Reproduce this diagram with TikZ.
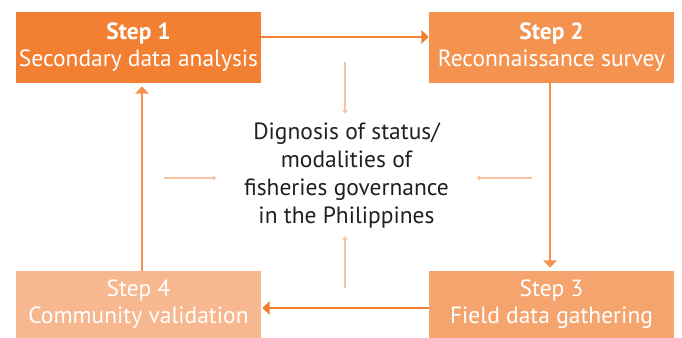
\documentclass[tikz,border=0pt]{standalone}
\usepackage{fontspec}
\setmainfont{PT Sans}
\usepackage{tikz}
\usetikzlibrary{arrows.meta}
\definecolor{stepA}{HTML}{F37F33}
\definecolor{stepB}{HTML}{F4924F}
\definecolor{stepC}{HTML}{F5A46E}
\definecolor{stepD}{HTML}{F7B78F}
\definecolor{hint}{HTML}{F9C2A0}
\definecolor{ink}{HTML}{231F20}
\newcommand{\stepnode}[4]{
  \node[stepbox, #2] (#1) at (#3) {#4};
}
\tikzset{stepbox/.style = {rectangle, text = white, align = center,
                           inner sep = 0pt, minimum width = 183.75pt,
                           font = \fontsize{17.6}{20.25}\selectfont}}

\begin{document}
\begin{tikzpicture}[x=0.75pt, y=-0.75pt]
  \useasboundingbox (0,0) rectangle (682,338);
  \stepnode{s1}{fill=stepA, minimum height=53.25pt}{138.5,47.5}{\textbf{Step 1}\\Secondary data analysis}
  \stepnode{s2}{fill=stepB, minimum height=53.25pt}{551.5,47.5}{\textbf{Step 2}\\Reconnaissance survey}
  \stepnode{s3}{fill=stepC, minimum height=50.25pt}{551.5,304.5}{Step 3\\Field data gathering}
  \stepnode{s4}{fill=stepD, minimum height=50.25pt}{138.5,304.5}{Step 4\\Community validation}
  \node[align=center, text=ink, inner sep=0pt, minimum width=195pt, minimum height=91.5pt,
        font=\fontsize{17.6}{21}\selectfont] (dg) at (346.5,175)
    {Dignosis of status/\\modalities of\\fisheries governance\\in the Philippines};
  \coordinate (up) at (345,62);
  \coordinate (down) at (345,288);
  \coordinate (lt) at (164,178);
  \coordinate (rt) at (532,178);
  \tikzstyle{EdgeStyle}=[line width=1.3pt, -{Triangle[width=10pt, length=5.5pt]}]
  \draw[EdgeStyle, stepA] ([yshift=7.9pt]s1.east) -- ([yshift=7.9pt]s2.west);
  \draw[EdgeStyle, stepB, shorten >=2.25pt] ([xshift=-1.1pt]s2.south) -- ([xshift=-1.1pt]s3.north);
  \draw[EdgeStyle, stepA, shorten >=0.75pt] ([yshift=-2.6pt]s3.west) -- ([yshift=-2.6pt]s4.east);
  \draw[EdgeStyle, stepB, shorten >=2.25pt] ([xshift=2.6pt]s4.north) -- ([xshift=2.6pt]s1.south);
  \tikzstyle{EdgeStyle}=[line width=1.1pt, hint, -{Triangle[width=4pt, length=2.5pt]}]
  \draw[EdgeStyle] (up) -- (up |- dg.north);
  \draw[EdgeStyle] (down) -- (down |- dg.south);
  \draw[EdgeStyle] (lt) -- (lt -| dg.west);
  \draw[EdgeStyle] (rt) -- (rt -| dg.east);
\end{tikzpicture}
\end{document}
